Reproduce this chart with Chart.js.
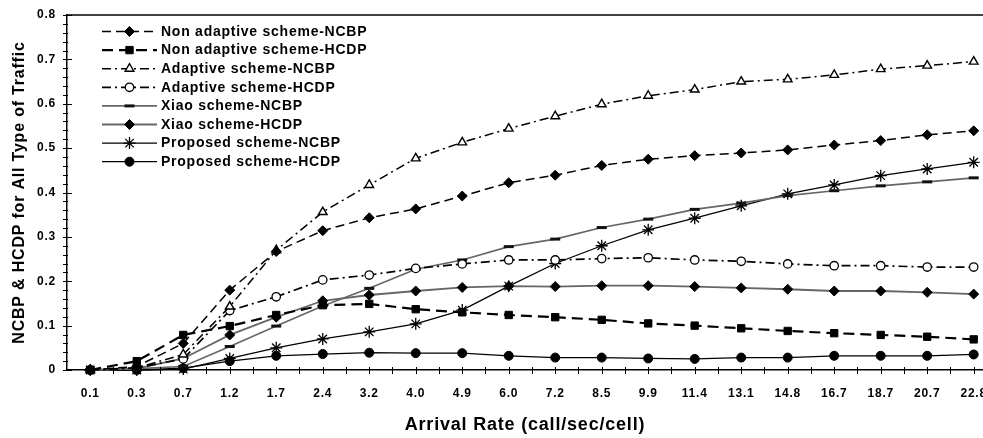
<!DOCTYPE html>
<html>
<head>
<meta charset="utf-8">
<script src="https://cdn.jsdelivr.net/npm/chart.js@4.4.0/dist/chart.umd.min.js"></script>
<style>
    html, body { margin: 0; padding: 0; background: #fff; overflow: hidden; }
    #wrap { position: relative; width: 983px; height: 438px; }
</style>
</head>
<body>
<div id="wrap"><canvas id="chart"></canvas></div>
<script>
// Arrival rates (x categories)
const arrivalRates = ['0.1', '0.3', '0.7', '1.2', '1.7', '2.4', '3.2', '4.0', '4.9', '6.0',
    '7.2', '8.5', '9.9', '11.4', '13.1', '14.8', '16.7', '18.7', '20.7', '22.8'];

const yTickLabels = ['0', '0.1', '0.2', '0.3', '0.4', '0.5', '0.6', '0.7', '0.8'];

const seriesNames = [
    'Non adaptive scheme-NCBP',
    'Non adaptive scheme-HCDP',
    'Adaptive scheme-NCBP',
    'Adaptive scheme-HCDP',
    'Xiao scheme-NCBP',
    'Xiao scheme-HCDP',
    'Proposed scheme-NCBP',
    'Proposed scheme-HCDP'
];

const nonAdaptiveNcbp = [0, 0.008, 0.06, 0.18, 0.267, 0.314, 0.343, 0.363, 0.392, 0.422,
    0.439, 0.461, 0.475, 0.483, 0.489, 0.496, 0.507, 0.517, 0.530, 0.539];
const nonAdaptiveHcdp = [0, 0.02, 0.079, 0.099, 0.124, 0.146, 0.149, 0.137, 0.130, 0.124,
    0.119, 0.113, 0.105, 0.100, 0.094, 0.088, 0.083, 0.079, 0.075, 0.069];
const adaptiveNcbp = [0, 0.005, 0.035, 0.143, 0.27, 0.356, 0.417, 0.477, 0.513, 0.544,
    0.572, 0.599, 0.618, 0.632, 0.650, 0.655, 0.665, 0.678, 0.686, 0.695];
const adaptiveHcdp = [0, 0.005, 0.025, 0.134, 0.165, 0.203, 0.214, 0.229, 0.239, 0.248,
    0.248, 0.251, 0.253, 0.248, 0.245, 0.239, 0.235, 0.235, 0.232, 0.232];
const xiaoNcbp = [0, 0.003, 0.008, 0.053, 0.099, 0.144, 0.184, 0.227, 0.248, 0.278,
    0.295, 0.321, 0.340, 0.362, 0.376, 0.393, 0.404, 0.415, 0.424, 0.433];
const xiaoHcdp = [0, 0.003, 0.026, 0.079, 0.119, 0.156, 0.169, 0.178, 0.186, 0.189,
    0.188, 0.190, 0.190, 0.188, 0.185, 0.182, 0.178, 0.178, 0.175, 0.171];
const proposedNcbp = [0, 0, 0.002, 0.026, 0.050, 0.070, 0.086, 0.104, 0.135, 0.189,
    0.240, 0.280, 0.316, 0.342, 0.370, 0.397, 0.417, 0.438, 0.453, 0.468];
const proposedHcdp = [0, 0, 0.004, 0.020, 0.032, 0.036, 0.039, 0.038, 0.038, 0.032,
    0.028, 0.028, 0.026, 0.025, 0.028, 0.028, 0.032, 0.032, 0.032, 0.035];

const FONT = "'Liberation Sans', Arial, sans-serif";
const dashed = [9, 5];
const dashDot = [9, 4, 2, 4];

// x is the position of the arrival rate in the list (evenly spaced like a category axis)
function series(label, values, style) {
    return Object.assign({
        label: label,
        data: values.map((v, i) => ({ x: i, y: v })),
        borderColor: '#000',
        backgroundColor: '#000',
        pointBorderColor: '#000',
        pointBackgroundColor: '#000',
        borderWidth: 1.5,
        pointBorderWidth: 1,
        pointRadius: 4.5,
        tension: 0,
        fill: false,
        clip: false
    }, style);
}

const datasets = [
    series(seriesNames[0], nonAdaptiveNcbp, { borderDash: dashed, pointStyle: 'rectRot', pointRadius: 5 }),
    series(seriesNames[1], nonAdaptiveHcdp, { borderDash: [11, 6], borderWidth: 2.2, pointStyle: 'rect', pointRadius: 5.2 }),
    series(seriesNames[2], adaptiveNcbp, { borderDash: dashDot, pointStyle: 'triangle', pointRadius: 5,
        pointBackgroundColor: '#fff', pointBorderWidth: 1.4 }),
    series(seriesNames[3], adaptiveHcdp, { borderDash: dashDot, borderWidth: 1.7, pointStyle: 'circle', pointRadius: 4.2,
        pointBackgroundColor: '#fff', pointBorderWidth: 1.3 }),
    series(seriesNames[4], xiaoNcbp, { borderColor: '#666', borderWidth: 1.6, pointStyle: 'line', pointRadius: 5,
        pointBorderWidth: 3, pointBorderColor: '#111' }),
    series(seriesNames[5], xiaoHcdp, { borderColor: '#666', borderWidth: 1.8, pointStyle: 'rectRot', pointRadius: 5 }),
    series(seriesNames[6], proposedNcbp, { borderWidth: 1.3, pointStyle: 'star', pointRadius: 6, pointBorderWidth: 1.3 }),
    series(seriesNames[7], proposedHcdp, { borderWidth: 1.3, pointStyle: 'circle', pointRadius: 4.5 })
];

// wide glyph spacing like the original export
const spacingPlugin = {
    id: 'spacing',
    beforeLayout(chart) { chart.ctx.letterSpacing = '0.8px'; },
    beforeDraw(chart) { chart.ctx.letterSpacing = '0.8px'; }
};

// frame line on top and crossing tick marks
const axisMarks = {
    id: 'axisMarks',
    afterDraw(chart) {
        const ctx = chart.ctx;
        const area = chart.chartArea;
        const x = chart.scales.x;
        const y = chart.scales.y;
        ctx.save();
        ctx.setLineDash([]);
        ctx.strokeStyle = '#000';
        ctx.lineWidth = 1.5;
        ctx.beginPath();
        ctx.moveTo(area.left, area.top);
        ctx.lineTo(area.right, area.top);
        ctx.stroke();

        ctx.lineWidth = 1;
        ctx.beginPath();
        for (let k = 0; k < arrivalRates.length * 2; k++) {
            const px = Math.round(x.getPixelForValue(k / 2)) + 0.5;
            if (px > area.right) break;
            ctx.moveTo(px, area.bottom - 3);
            ctx.lineTo(px, area.bottom + 4);
        }
        for (let k = 0; k <= 40; k++) {
            const py = Math.round(y.getPixelForValue(k / 50)) + 0.5;
            ctx.moveTo(area.left - 4, py);
            ctx.lineTo(area.left + (k % 5 === 0 ? 5 : 1), py);
        }
        ctx.stroke();
        ctx.restore();
    }
};

// legend drawn inside the plot, using each dataset's own style
const insideLegend = {
    id: 'insideLegend',
    afterDraw(chart) {
        const ctx = chart.ctx;
        const x0 = 102, x1 = 157, textX = 161;
        let rowY = 31.5;
        ctx.save();
        chart.data.datasets.forEach(ds => {
            ctx.strokeStyle = ds.borderColor;
            ctx.lineWidth = ds.borderWidth;
            ctx.setLineDash(ds.borderDash || []);
            ctx.beginPath();
            ctx.moveTo(x0, rowY);
            ctx.lineTo(x1, rowY);
            ctx.stroke();

            ctx.setLineDash([]);
            ctx.fillStyle = ds.pointBackgroundColor;
            ctx.strokeStyle = ds.pointBorderColor;
            ctx.lineWidth = ds.pointBorderWidth;
            Chart.helpers.drawPoint(ctx, {
                pointStyle: ds.pointStyle,
                rotation: 0,
                radius: ds.pointRadius,
                borderWidth: ds.pointBorderWidth
            }, (x0 + x1) / 2, rowY);

            ctx.fillStyle = '#000';
            ctx.letterSpacing = '0.75px';
            ctx.font = 'bold 14px ' + FONT;
            ctx.textAlign = 'left';
            ctx.textBaseline = 'middle';
            ctx.fillText(ds.label, textX, rowY + 0.5);
            rowY += 18.6;
        });
        ctx.restore();
    }
};

new Chart(document.getElementById('chart'), {
    type: 'line',
    data: {
        datasets: datasets
    },
    plugins: [spacingPlugin, axisMarks, insideLegend],
    options: {
        responsive: true,
        maintainAspectRatio: false,
        animation: false,
        layout: { autoPadding: false, padding: { top: 15, right: 0, left: 0, bottom: 0 } },
        plugins: {
            legend: { display: false },
            tooltip: { enabled: false }
        },
        scales: {
            x: {
                type: 'linear',
                min: -0.5,
                max: 19.2,
                grid: { display: false, drawTicks: false },
                border: { display: true, color: '#000', width: 1.5 },
                afterBuildTicks(scale) {
                    scale.ticks = arrivalRates.map((r, i) => ({ value: i }));
                },
                ticks: {
                    color: '#000',
                    font: { family: FONT, size: 12, weight: 'bold' },
                    padding: 16,
                    maxRotation: 0,
                    autoSkip: false,
                    callback: (value, index) => arrivalRates[index]
                },
                title: {
                    display: true,
                    text: 'Arrival Rate (call/sec/cell)',
                    color: '#000',
                    font: { family: FONT, size: 18, weight: 'bold' },
                    padding: { top: 0, bottom: 2 }
                },
                afterFit(scale) {
                    scale.height = 68;
                    // let the last label run off the edge, as in the original
                    scale.paddingLeft = 0;
                    scale.paddingRight = 0;
                }
            },
            y: {
                min: 0,
                max: 0.8,
                grid: { display: false, drawTicks: false },
                border: { display: true, color: '#000', width: 1.5 },
                ticks: {
                    stepSize: 0.1,
                    color: '#000',
                    font: { family: FONT, size: 12, weight: 'bold' },
                    padding: 11,
                    callback: (value, index) => yTickLabels[index]
                },
                title: {
                    display: true,
                    text: 'NCBP & HCDP for All Type of Traffic',
                    color: '#000',
                    font: { family: FONT, size: 16, weight: 'bold' },
                    padding: { top: 10, bottom: 0 }
                },
                afterFit(scale) {
                    scale.width = 67;
                    scale.paddingTop = 0;
                    scale.paddingBottom = 0;
                }
            }
        }
    }
});
</script>
</body>
</html>
